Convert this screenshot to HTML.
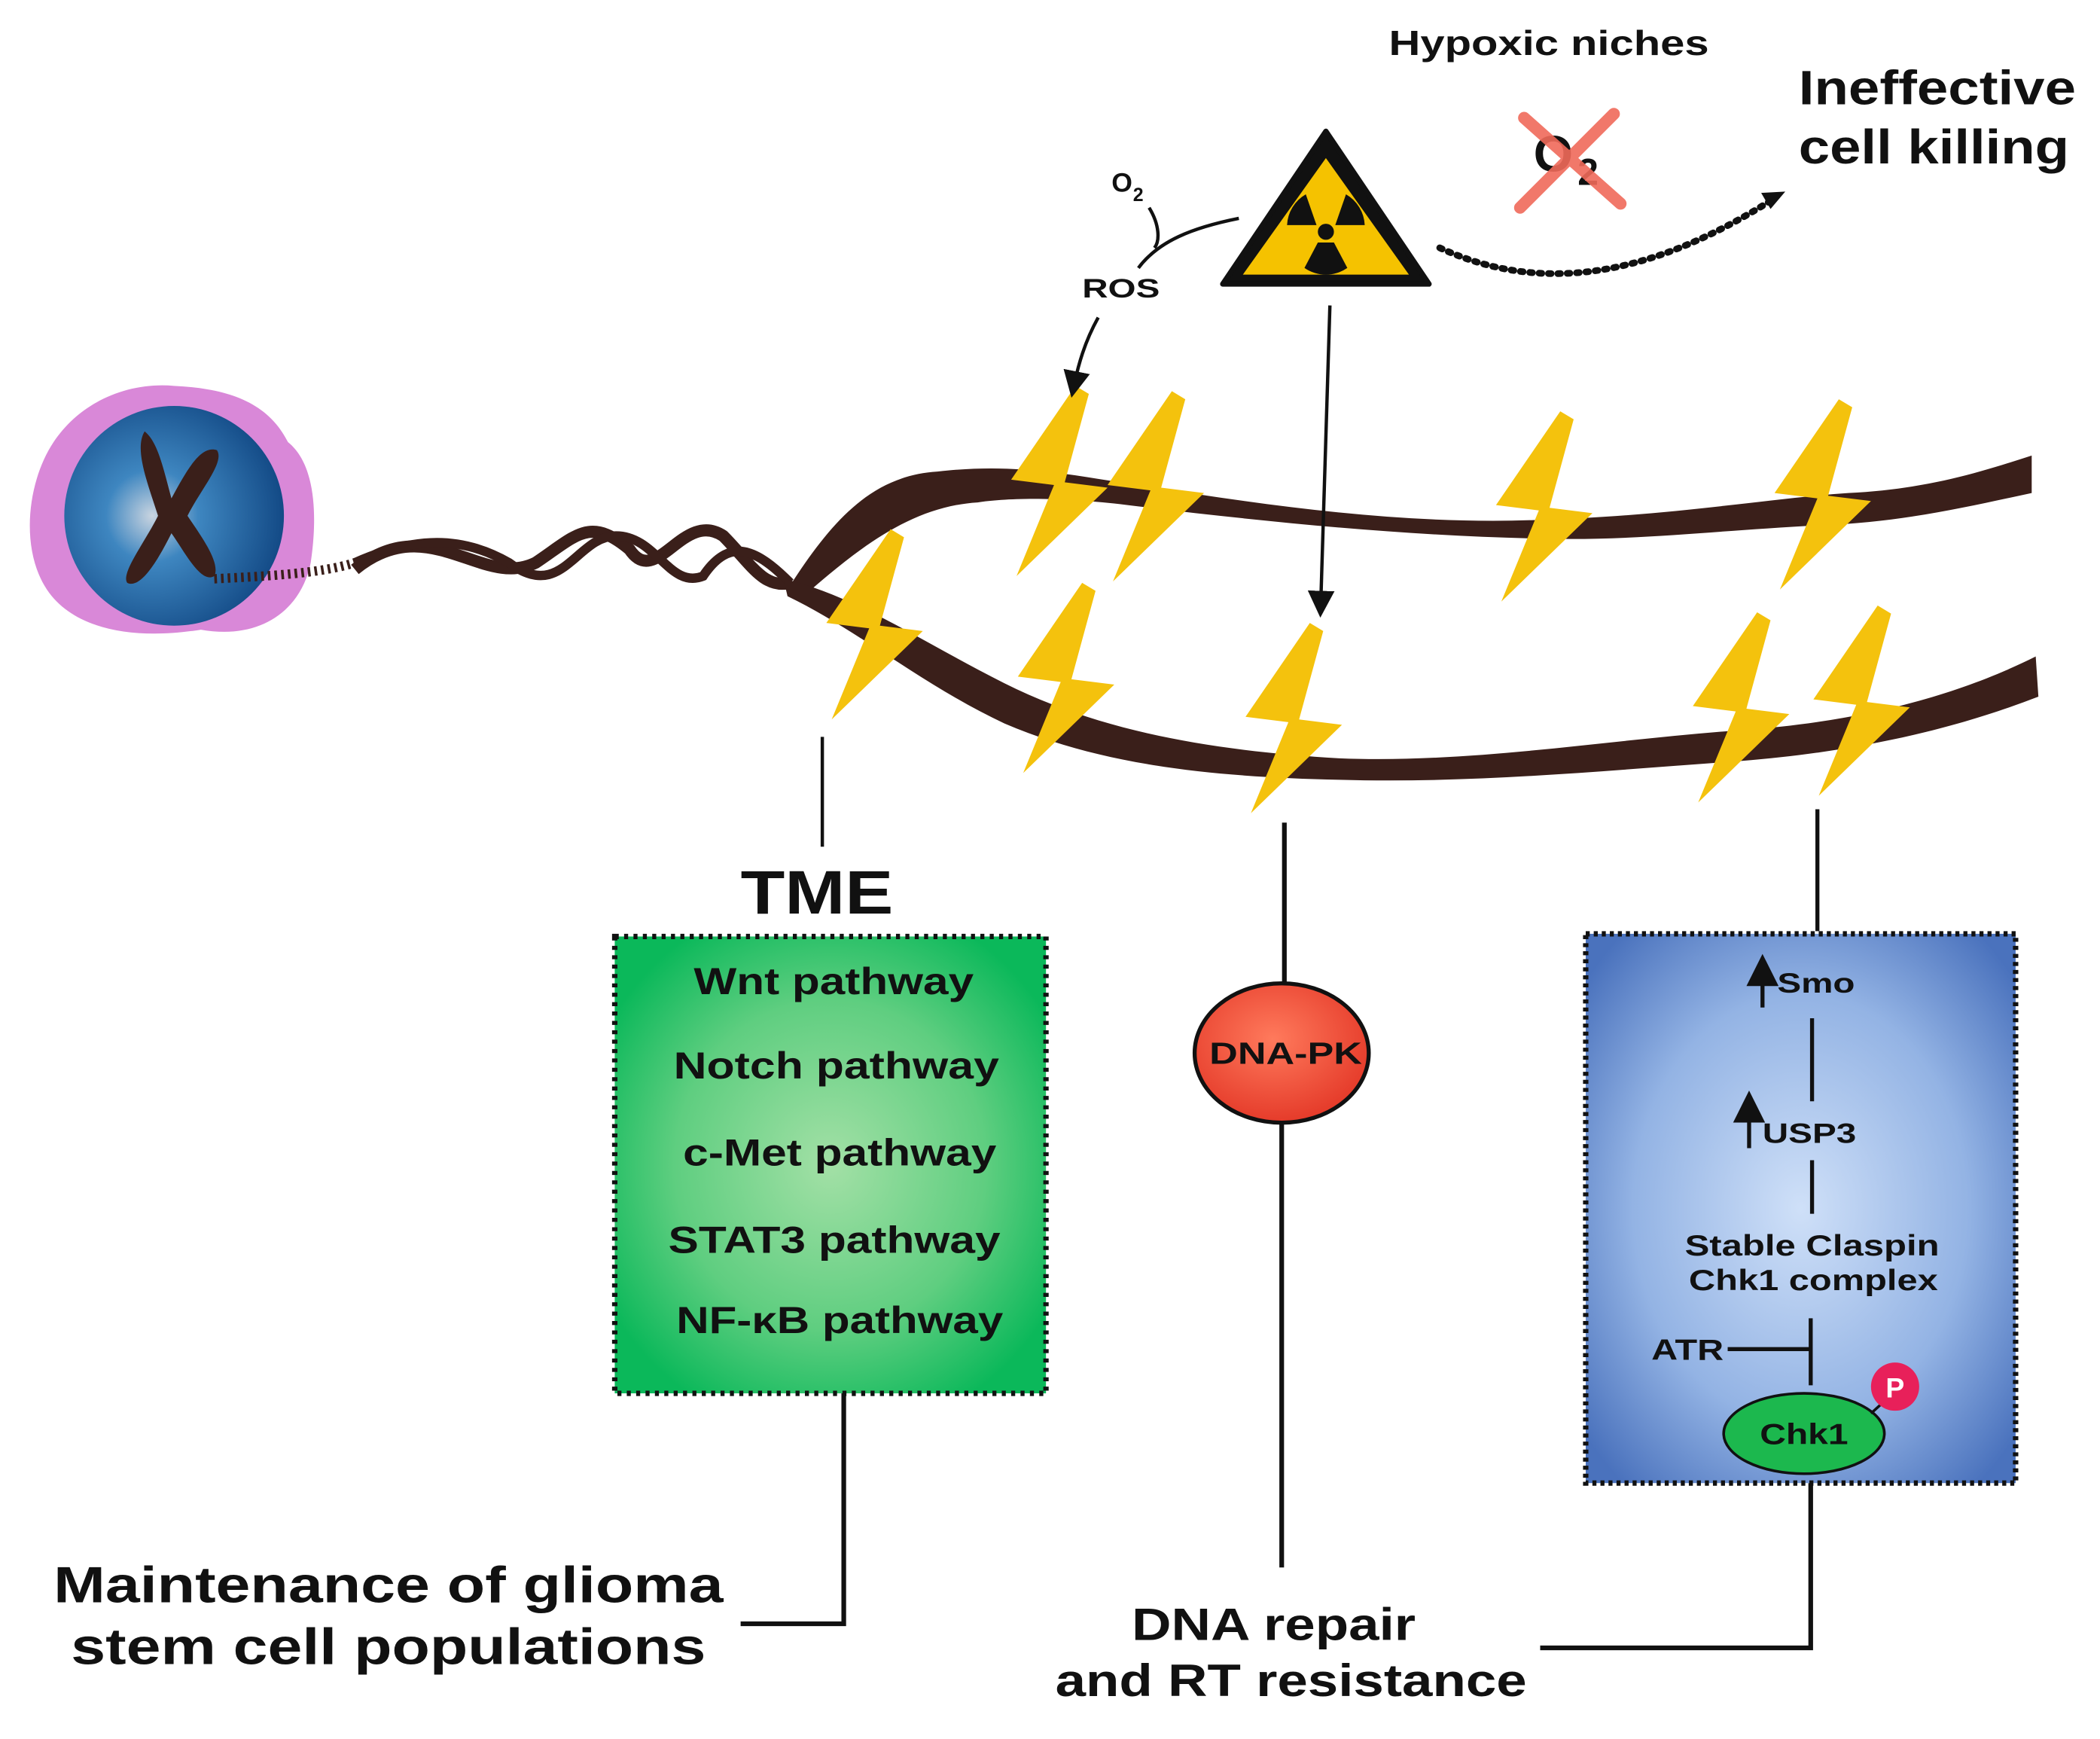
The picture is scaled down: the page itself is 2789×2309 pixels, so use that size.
<!DOCTYPE html>
<html><head><meta charset="utf-8"><style>html,body{margin:0;padding:0;background:#fff}svg{display:block}text{font-family:"Liberation Sans",sans-serif;font-weight:bold;fill:#111}</style></head>
<body>
<svg width="2789" height="2309" viewBox="0 0 1568 1298" preserveAspectRatio="none" xmlns="http://www.w3.org/2000/svg">
<defs>
<radialGradient id="gg" cx="50%" cy="50%" r="60%"><stop offset="0" stop-color="#a3e0a6"/><stop offset="0.6" stop-color="#5fce80"/><stop offset="1" stop-color="#0bb85a"/></radialGradient>
<radialGradient id="bg" cx="50%" cy="50%" r="65%"><stop offset="0" stop-color="#cfe0f8"/><stop offset="0.6" stop-color="#93b3e4"/><stop offset="1" stop-color="#4a72bd"/></radialGradient>
<radialGradient id="cell" cx="40%" cy="50%" r="60%"><stop offset="0" stop-color="#c9d4e0"/><stop offset="0.35" stop-color="#3e86c0"/><stop offset="1" stop-color="#134a86"/></radialGradient>
<radialGradient id="rg" cx="45%" cy="40%" r="60%"><stop offset="0" stop-color="#ff7a5c"/><stop offset="1" stop-color="#e53b2a"/></radialGradient>
<marker id="ah" markerWidth="8" markerHeight="8" refX="6" refY="4" orient="auto" markerUnits="strokeWidth"><path d="M0,0 L8,4 L0,8 Z" fill="#111"/></marker>
<g id="bolt"><path d="M50,0 L2,70 L34,74 L6,142 L74,76 L42,72 L60,6 Z" fill="#f4c20d"/></g>
</defs>

<!-- cell -->
<path d="M130,288 C170,290 200,300 215,330 C240,350 235,400 232,420 C225,455 195,478 150,470 C100,478 55,470 35,440 C15,410 20,360 40,330 C60,300 95,285 130,288 Z" fill="#d988d8"/>
<circle cx="130" cy="385" r="82" fill="url(#cell)"/>
<path d="M108,322 C118,330 122,350 128,372 C140,350 150,332 162,336 C168,345 150,365 140,385 C150,400 165,420 160,430 C150,436 138,412 128,398 C118,418 105,440 95,435 C90,428 108,405 118,385 C110,360 100,335 108,322 Z" fill="#3a1f1a"/>

<!-- strands -->
<path d="M160,432 C200,430 240,428 265,420" stroke="#3a1f1a" stroke-width="7" fill="none" stroke-dasharray="2 3"/>
<path d="M265,425 C320,380 360,440 400,420 C430,400 440,385 470,410 C490,440 510,380 540,400 C560,420 570,440 590,435" stroke="#3a1f1a" stroke-width="9" fill="none"/>
<path d="M265,420 C310,400 345,400 380,420 C420,450 430,400 460,400 C490,400 500,440 525,430 C545,400 565,410 590,435" stroke="#3a1f1a" stroke-width="7" fill="none"/>
<path d="M588,440 C620,390 650,355 700,352 C760,345 800,355 850,362 C950,378 1050,392 1150,388 C1250,385 1320,372 1380,368 C1440,365 1480,352 1517,340 L1517,368 C1470,378 1420,390 1360,392 C1280,396 1220,404 1150,402 C1050,400 950,390 850,378 C790,370 750,372 730,375 C680,378 640,410 600,445 Z" fill="#3a1f1a"/>
<path d="M585,432 C640,445 690,480 750,510 C820,545 900,560 1000,566 C1100,570 1200,552 1300,545 C1400,538 1470,515 1520,490 L1522,520 C1470,540 1400,560 1300,568 C1200,575 1100,585 1000,582 C900,580 820,570 750,540 C690,512 640,470 588,445 Z" fill="#3a1f1a"/>

<!-- bolts -->
<use href="#bolt" x="753" y="288"/>
<use href="#bolt" x="825" y="292"/>
<use href="#bolt" x="1115" y="307"/>
<use href="#bolt" x="1323" y="298"/>
<use href="#bolt" x="615" y="395"/>
<use href="#bolt" x="758" y="435"/>
<use href="#bolt" x="928" y="465"/>
<use href="#bolt" x="1262" y="457"/>
<use href="#bolt" x="1352" y="452"/>

<!-- radiation -->
<path d="M990,98 L1067,212 L913,212 Z" fill="#111" stroke="#111" stroke-width="4" stroke-linejoin="round"/>
<path d="M990,118 L1052,205 L928,205 Z" fill="#f5c200"/>
<circle cx="990" cy="173" r="6" fill="#111"/>
<path d="M983,168 L961,168 A28,28 0 0 1 975,145 Z" fill="#111"/>
<path d="M997,168 L1019,168 A28,28 0 0 0 1005,145 Z" fill="#111"/>
<path d="M984,181 L996,181 L1006,200 A28,28 0 0 1 974,200 Z" fill="#111"/>

<!-- hypoxic -->
<text x="1037" y="41" font-size="26" textLength="239" lengthAdjust="spacingAndGlyphs">Hypoxic niches</text>
<text x="1145" y="128" font-size="38">O</text>
<text x="1178" y="138" font-size="28">2</text>
<path d="M1138,88 L1210,152 M1205,85 L1135,155" stroke="#f06a5a" stroke-width="9" stroke-linecap="round" opacity="0.9"/>
<text x="1343" y="78" font-size="36" textLength="207" lengthAdjust="spacingAndGlyphs">Ineffective</text>
<text x="1343" y="122" font-size="36" textLength="202" lengthAdjust="spacingAndGlyphs">cell killing</text>
<path d="M1075,185 C1140,215 1220,215 1325,148" stroke="#111" stroke-width="5" fill="none" stroke-dasharray="2 5" stroke-linecap="round"/>
<path d="M1333,143 L1315,144 L1322,156 Z" fill="#111"/>

<!-- ROS -->
<text x="830" y="143" font-size="20">O</text>
<text x="846" y="150" font-size="14">2</text>
<text x="808" y="222" font-size="20" textLength="58" lengthAdjust="spacingAndGlyphs">ROS</text>
<path d="M858,155 C866,168 866,180 862,185 M850,200 C865,180 890,170 925,163" stroke="#111" stroke-width="2.5" fill="none"/>
<path d="M820,237 C810,255 805,272 801,292" stroke="#111" stroke-width="2.5" fill="none" marker-end="url(#ah)"/>
<path d="M993,228 L986,456" stroke="#111" stroke-width="2.5" fill="none" marker-end="url(#ah)"/>

<!-- TME -->
<line x1="614" y1="550" x2="614" y2="632" stroke="#111" stroke-width="2.5"/>
<text x="553" y="682" font-size="46" textLength="114" lengthAdjust="spacingAndGlyphs">TME</text>
<rect x="459" y="699" width="322" height="341" fill="url(#gg)" stroke="#111" stroke-width="4" stroke-dasharray="3 4"/>
<g font-size="28">
<text x="518" y="742" textLength="209" lengthAdjust="spacingAndGlyphs">Wnt pathway</text>
<text x="503" y="805" textLength="243" lengthAdjust="spacingAndGlyphs">Notch pathway</text>
<text x="510" y="870" textLength="234" lengthAdjust="spacingAndGlyphs">c-Met pathway</text>
<text x="499" y="935" textLength="248" lengthAdjust="spacingAndGlyphs">STAT3 pathway</text>
<text x="505" y="995" textLength="244" lengthAdjust="spacingAndGlyphs">NF-κB pathway</text>
</g>
<path d="M630,1040 L630,1212 L553,1212" stroke="#111" stroke-width="3.5" fill="none"/>
<text x="40" y="1196" font-size="38" textLength="500" lengthAdjust="spacingAndGlyphs">Maintenance of glioma</text>
<text x="53" y="1242" font-size="38" textLength="474" lengthAdjust="spacingAndGlyphs">stem cell populations</text>

<!-- DNA-PK -->
<line x1="959" y1="614" x2="959" y2="738" stroke="#111" stroke-width="3.5"/>
<ellipse cx="957" cy="786" rx="65" ry="52" fill="url(#rg)" stroke="#111" stroke-width="3"/>
<text x="903" y="794" font-size="23" textLength="114" lengthAdjust="spacingAndGlyphs">DNA-PK</text>
<line x1="957" y1="838" x2="957" y2="1170" stroke="#111" stroke-width="3.5"/>
<text x="845" y="1224" font-size="34" textLength="212" lengthAdjust="spacingAndGlyphs">DNA repair</text>
<text x="788" y="1266" font-size="34" textLength="352" lengthAdjust="spacingAndGlyphs">and RT resistance</text>

<!-- blue box -->
<line x1="1357" y1="604" x2="1357" y2="695" stroke="#111" stroke-width="3"/>
<rect x="1184" y="697" width="321" height="410" fill="url(#bg)" stroke="#111" stroke-width="4" stroke-dasharray="3 3"/>
<path d="M1352,1107 L1352,1230 L1150,1230" stroke="#111" stroke-width="3.5" fill="none"/>
<line x1="1316" y1="752" x2="1316" y2="718" stroke="#111" stroke-width="3" marker-end="url(#ah)"/>
<text x="1327" y="741" font-size="21" textLength="58" lengthAdjust="spacingAndGlyphs">Smo</text>
<line x1="1353" y1="760" x2="1353" y2="822" stroke="#111" stroke-width="3"/>
<line x1="1306" y1="857" x2="1306" y2="820" stroke="#111" stroke-width="3" marker-end="url(#ah)"/>
<text x="1316" y="853" font-size="21" textLength="70" lengthAdjust="spacingAndGlyphs">USP3</text>
<line x1="1353" y1="866" x2="1353" y2="906" stroke="#111" stroke-width="3"/>
<text x="1258" y="937" font-size="22" textLength="190" lengthAdjust="spacingAndGlyphs">Stable Claspin</text>
<text x="1261" y="963" font-size="22" textLength="186" lengthAdjust="spacingAndGlyphs">Chk1 complex</text>
<line x1="1352" y1="984" x2="1352" y2="1034" stroke="#111" stroke-width="3"/>
<line x1="1290" y1="1007" x2="1352" y2="1007" stroke="#111" stroke-width="3"/>
<text x="1233" y="1015" font-size="22" textLength="54" lengthAdjust="spacingAndGlyphs">ATR</text>
<ellipse cx="1347" cy="1070" rx="60" ry="30" fill="#1cb84e" stroke="#111" stroke-width="2"/>
<text x="1314" y="1078" font-size="22" textLength="66" lengthAdjust="spacingAndGlyphs">Chk1</text>
<line x1="1397" y1="1055" x2="1408" y2="1045" stroke="#111" stroke-width="2"/>
<circle cx="1415" cy="1035" r="18" fill="#e8205a"/>
<text x="1415" y="1043" font-size="21" text-anchor="middle" style="fill:#fff">P</text>
</svg>
</body></html>
